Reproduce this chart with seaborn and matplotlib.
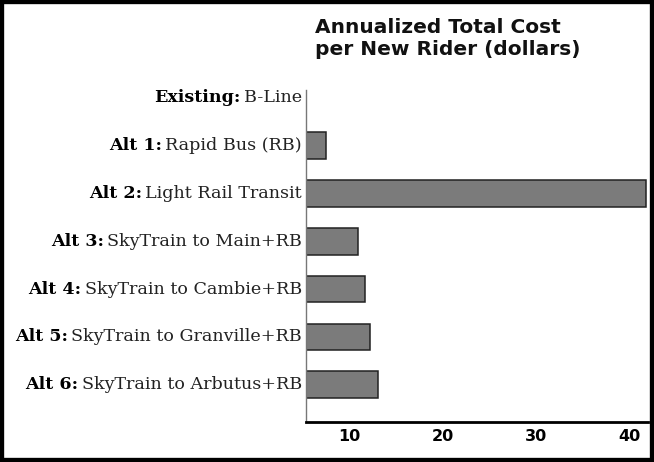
import matplotlib
matplotlib.use("Agg")
import matplotlib.pyplot as plt
import seaborn as sns
import pandas as pd
from matplotlib.patches import Rectangle
from matplotlib.transforms import blended_transform_factory

# option labels: bold prefix + plain description
prefixes = ["Existing:", "Alt 1:", "Alt 2:", "Alt 3:", "Alt 4:", "Alt 5:", "Alt 6:"]
names = ["B-Line", "Rapid Bus (RB)", "Light Rail Transit", "SkyTrain to Main+RB",
         "SkyTrain to Cambie+RB", "SkyTrain to Granville+RB", "SkyTrain to Arbutus+RB"]
# annualized total cost per new rider (dollars)
costs = [0, 7.5, 41.8, 11.0, 11.7, 12.2, 13.1]
xticks = [10, 20, 30, 40]

df = pd.DataFrame({"option": prefixes, "cost": costs})

sns.set_style("white")
plt.rcParams["font.family"] = ["DejaVu Sans"]
plt.rcParams["text.color"] = "black"
plt.rcParams["xtick.color"] = "black"

fig = plt.figure(figsize=(6.54, 4.62), dpi=100)
ax = fig.add_axes([0.468, 0.087, 0.523, 0.718])

sns.barplot(data=df, x="cost", y="option", orient="h", color="#7b7b7b",
            edgecolor="#222222", linewidth=1.1, width=0.56, saturation=1, ax=ax)

ax.set_xlim(5.4, 42)
ax.set_ylim(6.77, -0.15)
ax.set_xticks(xticks)
ax.set_xticklabels([str(t) for t in xticks], fontsize=11.5, fontweight="bold")
ax.set_yticks([])
ax.set_xlabel("")
ax.set_ylabel("")
ax.tick_params(axis="x", direction="inout", length=7, width=2, color="black", pad=2)

for s in ["top", "right"]:
    ax.spines[s].set_visible(False)
ax.spines["bottom"].set_color("black")
ax.spines["bottom"].set_linewidth(2)
ax.spines["left"].set_color("#777777")
ax.spines["left"].set_linewidth(1)

# labels with a bold prefix and a plain description
trans = blended_transform_factory(ax.transAxes, ax.transData)
fig.canvas.draw()
renderer = fig.canvas.get_renderer()
for i, (p, n) in enumerate(zip(prefixes, names)):
    t = ax.text(-0.012, i, n, ha="right", va="center", transform=trans,
                fontsize=12.6, family="DejaVu Serif", color="#222222")
    bb = t.get_window_extent(renderer)
    x_ax = ax.transAxes.inverted().transform((bb.x0 - 3, 0))[0]
    ax.text(x_ax, i, p, ha="right", va="center", transform=trans,
            fontsize=12.6, family="DejaVu Serif", fontweight="bold", color="black")

fig.text(0.482, 0.962, "Annualized Total Cost\nper New Rider (dollars)",
         ha="left", va="top", fontsize=14.5, fontweight="bold", linespacing=1.2,
         color="#111111")

fig.patches.append(Rectangle((0, 0), 1, 1, transform=fig.transFigure, fill=False,
                             edgecolor="black", linewidth=6))

fig.savefig("out.png", dpi=100, facecolor="white")
